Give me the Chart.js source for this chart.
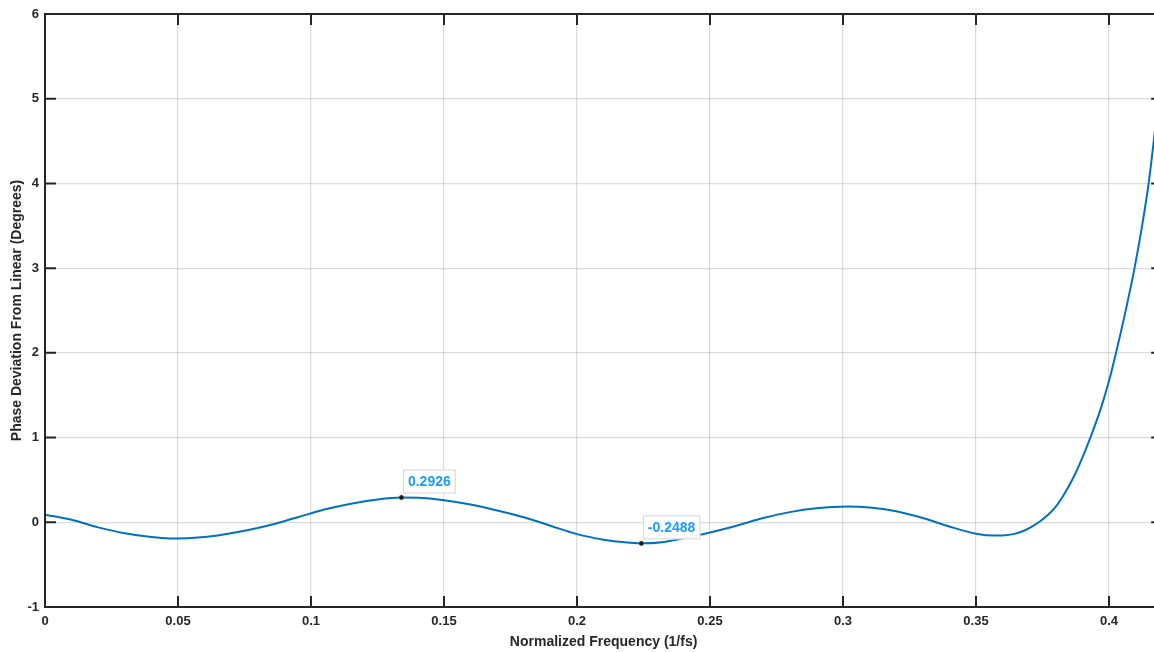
<!DOCTYPE html>
<html>
<head>
<meta charset="utf-8">
<script src="https://cdn.jsdelivr.net/npm/chart.js@4.4.1/dist/chart.umd.min.js"></script>
<style>
  html, body { margin: 0; padding: 0; background: #fff; overflow: hidden; }
  #wrap { width: 1167px; height: 652px; }
</style>
</head>
<body>
<div id="wrap"><canvas id="myChart" width="1167" height="652"></canvas></div>
<script>
// frequency (1/fs) and phase deviation (deg)
var freq = [0, 0.01, 0.02, 0.03, 0.04, 0.047, 0.055, 0.065, 0.075, 0.085, 0.095, 0.105,
            0.115, 0.125, 0.134, 0.142, 0.15, 0.16, 0.17, 0.18, 0.19, 0.2, 0.21, 0.218,
            0.2242, 0.232, 0.24, 0.25, 0.26, 0.27, 0.28, 0.29, 0.3016, 0.31, 0.32, 0.33,
            0.34, 0.35, 0.357, 0.36, 0.364, 0.368, 0.371, 0.374, 0.377, 0.38, 0.3829,
            0.386, 0.389, 0.393, 0.397, 0.4, 0.4024, 0.406, 0.4096, 0.4125, 0.4149, 0.417, 0.42];
var phase = [0.09, 0.03, -0.06, -0.13, -0.175, -0.19, -0.185, -0.155, -0.1, -0.03, 0.06, 0.15,
             0.22, 0.27, 0.2926, 0.287, 0.26, 0.21, 0.14, 0.06, -0.04, -0.14, -0.205, -0.237,
             -0.2488, -0.235, -0.19, -0.12, -0.04, 0.05, 0.12, 0.165, 0.186, 0.175, 0.13, 0.05,
             -0.05, -0.135, -0.157, -0.155, -0.14, -0.1, -0.05, 0.01, 0.085, 0.185, 0.32,
             0.49, 0.69, 1.0, 1.35, 1.67, 1.97, 2.46, 3.0, 3.51, 4.0, 4.55, 5.42];

// data tips
var tipFreq = [0.134, 0.2242];
var tipValue = [0.2926, -0.2488];

var xTicks = [0, 0.05, 0.1, 0.15, 0.2, 0.25, 0.3, 0.35, 0.4];
var yTicks = [-1, 0, 1, 2, 3, 4, 5, 6];

var axisColor = '#262626';
var gridColor = 'rgba(0,0,0,0.14)';

var points = freq.map(function (f, i) { return { x: f, y: phase[i] }; });
var tips = tipFreq.map(function (f, i) { return { x: f, y: tipValue[i] }; });

// inward ticks + box, MATLAB style
var boxPlugin = {
    id: 'boxTicks',
    afterDraw: function (chart) {
        var ctx = chart.ctx, a = chart.chartArea;
        var xs = chart.scales.x, ys = chart.scales.y;
        var len = 11;
        ctx.save();
        ctx.strokeStyle = axisColor;
        ctx.lineWidth = 2;
        ctx.beginPath();
        xTicks.forEach(function (v) {
            var px = xs.getPixelForValue(v);
            ctx.moveTo(px, a.bottom); ctx.lineTo(px, a.bottom - len);
            ctx.moveTo(px, a.top); ctx.lineTo(px, a.top + len);
        });
        yTicks.forEach(function (v) {
            var py = ys.getPixelForValue(v);
            ctx.moveTo(a.left, py); ctx.lineTo(a.left + len, py);
            ctx.moveTo(a.right, py); ctx.lineTo(a.right - len, py);
        });
        ctx.stroke();
        ctx.beginPath();
        ctx.rect(a.left, a.top, a.right - a.left, a.bottom - a.top);
        ctx.stroke();
        ctx.restore();
    },
    afterDatasetsDraw: function (chart) {
        var ctx = chart.ctx;
        var xs = chart.scales.x, ys = chart.scales.y;
        ctx.save();
        ctx.font = 'bold 14px "Liberation Sans", Arial, sans-serif';
        tips.forEach(function (p) {
            var px = xs.getPixelForValue(p.x), py = ys.getPixelForValue(p.y);
            var txt = p.y.toFixed(4);
            var w = ctx.measureText(txt).width + 10, h = 24;
            var bx = px + 1.5, by = py - 4 - h;
            ctx.fillStyle = 'rgba(255,255,255,0.95)';
            ctx.fillRect(bx, by, w, h);
            ctx.strokeStyle = '#d4d4d4';
            ctx.lineWidth = 1;
            ctx.strokeRect(bx + 0.5, by + 0.5, w - 1, h - 1);
            ctx.fillStyle = '#1a9bff';
            ctx.textBaseline = 'middle';
            ctx.fillText(txt, bx + 5, by + h / 2 + 1);
        });
        ctx.restore();
    }
};

var ctx = document.getElementById('myChart');
var chart = new Chart(ctx, {
    type: 'line',
    data: {
        datasets: [{
            label: 'phase',
            data: points,
            borderColor: '#0072BD',
            borderWidth: 2,
            pointRadius: 0,
            cubicInterpolationMode: 'monotone',
            order: 2
        }, {
            label: 'tips',
            data: tips,
            showLine: false,
            pointRadius: 2.2,
            pointBackgroundColor: '#1a1a1a',
            pointBorderColor: '#55521a',
            pointBorderWidth: 0.8,
            order: 1
        }]
    },
    plugins: [boxPlugin],
    options: {
        responsive: false,
        animation: false,
        layout: { padding: { top: 14, right: 0, left: 0, bottom: 0 } },
        plugins: { legend: { display: false }, tooltip: { enabled: false } },
        scales: {
            x: {
                type: 'linear',
                min: 0,
                max: 0.42,
                afterBuildTicks: function (s) {
                    s.ticks = xTicks.map(function (v) { return { value: v }; });
                },
                afterFit: function (s) { s.height = 45; },
                grid: { color: gridColor, lineWidth: 1.2, drawTicks: false },
                border: { display: false },
                ticks: {
                    padding: 7,
                    color: axisColor,
                    maxRotation: 0,
                    font: { family: '"Liberation Sans", Arial, sans-serif', size: 13, weight: 'bold' },
                    callback: function (v) { return String(+v.toFixed(2)); }
                },
                title: {
                    display: true,
                    text: 'Normalized Frequency (1/fs)',
                    color: axisColor,
                    padding: { top: 0, bottom: 1 },
                    font: { family: '"Liberation Sans", Arial, sans-serif', size: 14, weight: 'bold' }
                }
            },
            y: {
                min: -1,
                max: 6,
                afterBuildTicks: function (s) {
                    s.ticks = yTicks.map(function (v) { return { value: v }; });
                },
                afterFit: function (s) { s.width = 45; },
                grid: { color: gridColor, lineWidth: 1.2, drawTicks: false },
                border: { display: false },
                ticks: {
                    padding: 6,
                    color: axisColor,
                    font: { family: '"Liberation Sans", Arial, sans-serif', size: 13, weight: 'bold' }
                },
                title: {
                    display: true,
                    text: 'Phase Deviation From Linear (Degrees)',
                    color: axisColor,
                    padding: { top: 9, bottom: 0 },
                    font: { family: '"Liberation Sans", Arial, sans-serif', size: 14, weight: 'bold' }
                }
            }
        }
    }
});
</script>
</body>
</html>
